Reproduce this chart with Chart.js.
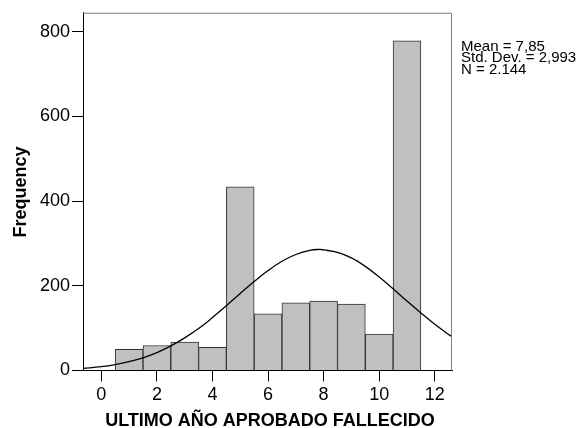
<!DOCTYPE html>
<html>
<head>
<meta charset="utf-8">
<script src="https://cdn.jsdelivr.net/npm/chart.js@4"></script>
<style>
  html, body { margin: 0; padding: 0; background: #fff; }
  #wrap { width: 579px; height: 428px; position: relative; }
</style>
</head>
<body>
<div id="wrap"><canvas id="chart" width="579" height="428"></canvas></div>
<script>
// Histogram bins (bin centres) and frequencies
const binCenters = [1, 2, 3, 4, 5, 6, 7, 8, 9, 10, 11];
const frequencies = [50, 59, 67, 55, 434, 134, 160, 164, 157, 86, 779];

// Fitted normal curve
const curveX = [-0.66, 0, 0.5, 1, 1.5, 2, 2.5, 3, 3.5, 4, 4.5, 5, 5.5, 6, 6.5, 7, 7.5, 7.85, 8, 8.5, 9, 9.5, 10, 10.5, 11, 11.5, 12, 12.5, 12.62];
const curveY = [5, 9, 14, 21, 30, 42, 58, 77, 99, 125, 153, 182, 210, 236, 258, 274, 284, 286, 285, 279, 266, 246, 221, 193, 164, 136, 109, 85, 80];

// Axis ticks and labels
const xTicks = [0, 2, 4, 6, 8, 10, 12];
const yTicks = [0, 200, 400, 600, 800];
const xTitle = 'ULTIMO AÑO APROBADO FALLECIDO';
const yTitle = 'Frequency';
const statsLines = ['Mean = 7,85', 'Std. Dev. = 2,993', 'N = 2.144'];

const FONT = '"Liberation Sans", Arial, sans-serif';

// Frame, axis titles and the stats box
const decorations = {
  id: 'decorations',
  afterDatasetsDraw(chart) {
    const { ctx, chartArea: a } = chart;
    ctx.save();
    // light frame on top and right
    ctx.strokeStyle = '#808080';
    ctx.lineWidth = 1;
    ctx.beginPath();
    ctx.moveTo(a.left, a.top + 0.5);
    ctx.lineTo(a.right - 0.5, a.top + 0.5);
    ctx.lineTo(a.right - 0.5, a.bottom);
    ctx.stroke();

    ctx.fillStyle = '#000';
    // x title
    ctx.font = 'bold 18px ' + FONT;
    ctx.textAlign = 'center';
    ctx.textBaseline = 'alphabetic';
    ctx.fillText(xTitle, 270, 426);

    // y title
    ctx.save();
    ctx.translate(26, 192);
    ctx.rotate(-Math.PI / 2);
    ctx.font = 'bold 18px ' + FONT;
    ctx.fillText(yTitle, 0, 0);
    ctx.restore();

    // stats
    ctx.font = '15px ' + FONT;
    ctx.textAlign = 'left';
    statsLines.forEach((s, i) => {
      ctx.fillText(s, 461, 50.5 + i * 11.8);
    });
    ctx.restore();
  }
};

const ctx = document.getElementById('chart').getContext('2d');
new Chart(ctx, {
  data: {
    datasets: [
      {
        type: 'line',
        data: curveX.map((x, i) => ({ x, y: curveY[i] })),
        borderColor: '#000',
        borderWidth: 1.3,
        pointRadius: 0,
        tension: 0.4,
        fill: false,
        order: 0
      },
      {
        type: 'bar',
        data: binCenters.map((x, i) => ({ x, y: frequencies[i] })),
        backgroundColor: '#c0c0c0',
        borderColor: '#333',
        borderWidth: 1,
        barPercentage: 1,
        categoryPercentage: 1,
        order: 1
      }
    ]
  },
  options: {
    responsive: false,
    animation: false,
    layout: { padding: { top: 11, right: 127, left: 0, bottom: 0 } },
    plugins: { legend: { display: false }, tooltip: { enabled: false } },
    scales: {
      x: {
        type: 'linear',
        min: -0.66,
        max: 12.62,
        offset: false,
        afterBuildTicks: s => { s.ticks = xTicks.map(v => ({ value: v })); },
        afterFit: s => { s.height = 57.5; },
        grid: { offset: false, drawOnChartArea: false, drawTicks: true, tickLength: 11, tickColor: '#000' },
        border: { display: true, color: '#000', width: 1 },
        ticks: { color: '#000', font: { family: FONT, size: 18 }, padding: 3, maxRotation: 0 }
      },
      y: {
        type: 'linear',
        min: 0,
        max: 845,
        afterBuildTicks: s => { s.ticks = yTicks.map(v => ({ value: v })); },
        afterFit: s => { s.width = 83; },
        grid: { drawOnChartArea: false, drawTicks: true, tickLength: 11, tickColor: '#000' },
        border: { display: true, color: '#000', width: 1 },
        ticks: { color: '#000', font: { family: FONT, size: 18 }, padding: 2 }
      }
    }
  },
  plugins: [decorations]
});
</script>
</body>
</html>
